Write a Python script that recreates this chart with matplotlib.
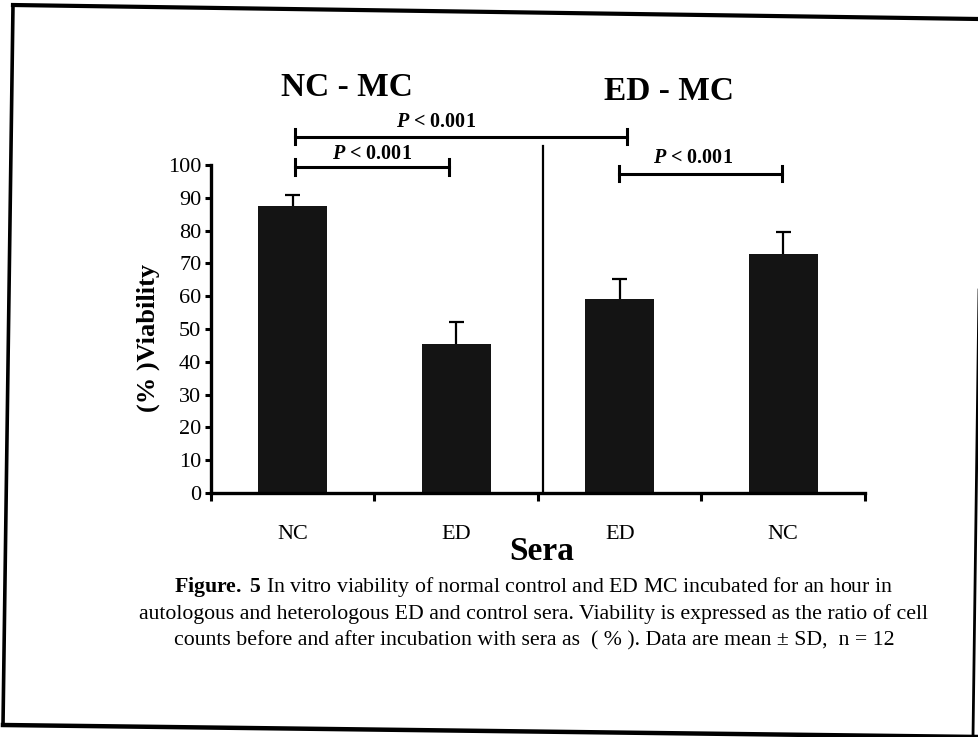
import matplotlib
matplotlib.use("Agg")
import matplotlib.pyplot as plt
from matplotlib.lines import Line2D

plt.rcParams['font.family'] = ['Liberation Serif', 'DejaVu Serif']
plt.rcParams['mathtext.fontset'] = 'custom'
plt.rcParams['mathtext.it'] = 'Liberation Serif:italic:bold'
plt.rcParams['mathtext.bf'] = 'Liberation Serif:bold'
plt.rcParams['mathtext.rm'] = 'Liberation Serif'

# mean viability (%) and SD per serum, n = 12
sera = ['NC', 'ED', 'ED', 'NC']
viability = [87.5, 45.5, 59.0, 73.0]
sd = [3.3, 6.5, 6.1, 6.6]
groups = ['NC - MC', 'ED - MC']
p_labels = ['P < 0.001', 'P < 0.001', 'P < 0.001']

caption = [
    r'$\mathbf{Figure.}$ $\mathbf{5}$ In vitro viability of normal control and ED MC incubated for an hour in',
    'autologous and heterologous ED and control sera. Viability is expressed as the ratio of cell',
    'counts before and after incubation with sera as  ( % ). Data are mean \u00b1 SD,  n = 12',
]

W, H = 979, 737
fig = plt.figure(figsize=(W / 100, H / 100), dpi=100)
ax = fig.add_axes([211 / W, 1 - 493 / H, 654 / W, 328 / H])

x = [i + 0.5 for i in range(len(sera))]
ax.bar(x, viability, width=0.42, color='#141414', zorder=2)
# upper error bars only
tops = [v + s for v, s in zip(viability, sd)]
ax.vlines(x, viability, tops, color='black', lw=1.6, zorder=1)
ax.hlines(tops, [xi - 0.045 for xi in x], [xi + 0.045 for xi in x], color='black', lw=1.6)

ax.set_xlim(0, 4)
ax.set_ylim(0, 100)
ax.set_yticks(range(0, 101, 10))
ax.set_xticks(range(0, 5))
ax.set_xticklabels([])
ax.set_xticks(x, minor=True)
ax.set_xticklabels(sera, minor=True, fontsize=16)
ax.tick_params(axis='x', which='major', direction='out', length=6, width=2.2)
ax.tick_params(axis='x', which='minor', length=0, pad=23)
ax.tick_params(axis='y', direction='out', length=4, width=2.2, pad=3, labelsize=16)
for s in ['top', 'right']:
    ax.spines[s].set_visible(False)
for s in ['left', 'bottom']:
    ax.spines[s].set_linewidth(2.4)

# divider between the two mast cell groups
ax.plot([2.03, 2.03], [0, 105.7], color='black', lw=1.6, clip_on=False)

ax.text(0.83, 123.7, groups[0], ha='center', va='center', fontsize=24, fontweight='bold')
ax.text(2.80, 122.5, groups[1], ha='center', va='center', fontsize=24, fontweight='bold')


def bracket(x0, x1, y, label, lx, ly):
    ax.plot([x0, x1], [y, y], color='black', lw=2.2, clip_on=False)
    for xe in (x0, x1):
        ax.plot([xe, xe], [y - 2.3, y + 2.3], color='black', lw=2.2, clip_on=False)
    txt = '$P$' + label[1:]
    ax.text(lx, ly, txt, ha='center', va='center', fontsize=14.5, fontweight='bold')


bracket(0.514, 2.544, 108.6, p_labels[0], 1.376, 113.0)
bracket(0.514, 1.456, 99.4, p_labels[1], 0.985, 103.5)
bracket(2.495, 3.49, 97.4, p_labels[2], 2.948, 102.0)

fig.text(148 / W, 1 - 338 / H, '(% )Viability', rotation=90, ha='center', va='center',
         fontsize=19, fontweight='bold')
fig.text(542 / W, 1 - 552 / H, 'Sera', ha='center', va='center', fontsize=24, fontweight='bold')

for i, line in enumerate(caption):
    fig.text(534 / W, 1 - (587 + 27 * i) / H, line, ha='center', va='center', fontsize=15.7)

# page frame of the scanned figure
frame = [
    ([13, 979], [5, 19], 3.0),
    ([13, 3], [5, 725], 2.6),
    ([3, 979], [725, 737], 3.2),
    ([979, 973], [290, 737], 2.0),
]
for xs, ys, lw in frame:
    fig.add_artist(Line2D([v / W for v in xs], [1 - v / H for v in ys],
                          transform=fig.transFigure, color='black', lw=lw))

fig.savefig('out.png', dpi=100, facecolor='white')
